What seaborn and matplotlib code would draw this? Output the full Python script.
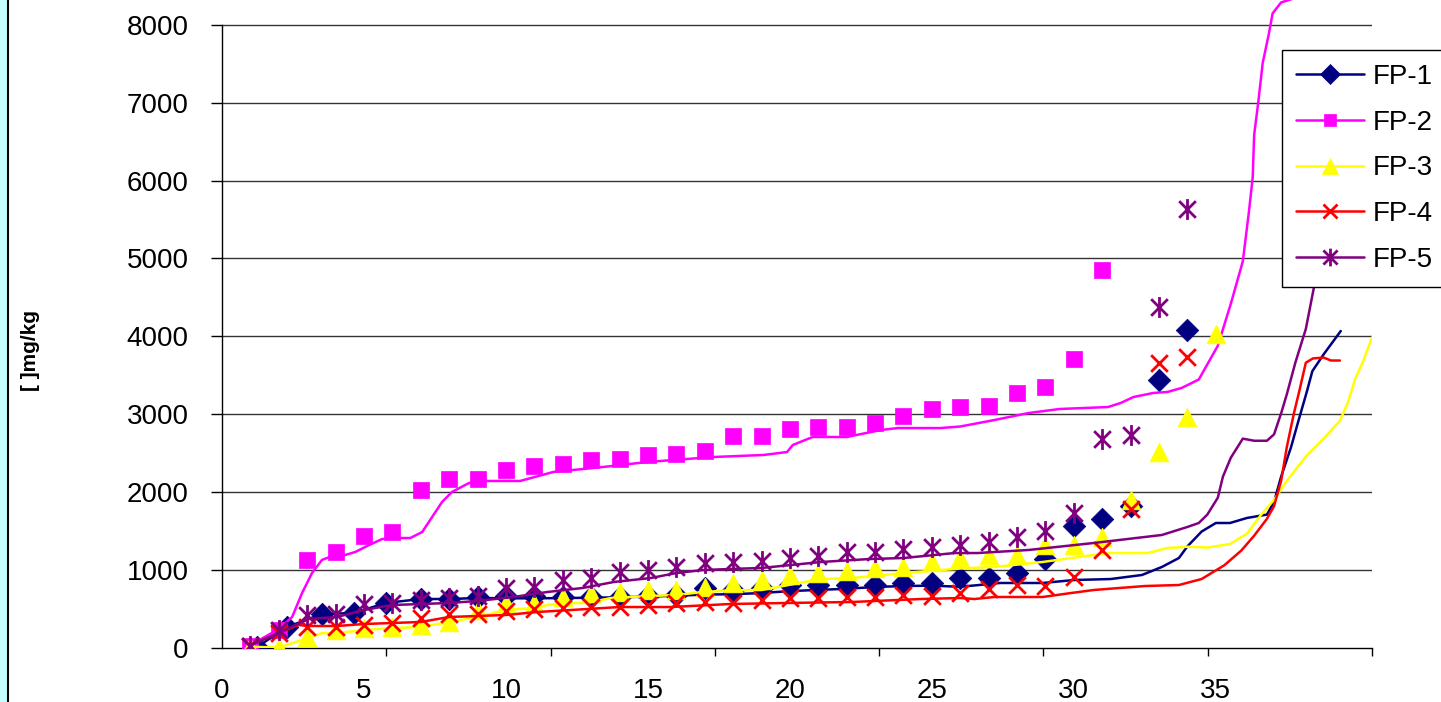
import numpy as np
import pandas as pd
import matplotlib
matplotlib.use("Agg")
import matplotlib.pyplot as plt
import seaborn as sns
from matplotlib.lines import Line2D
from matplotlib.path import Path
from matplotlib.patches import Rectangle

# ---- marker data ----
fp1_mx = [1.23, 2.29, 3.52, 4.65, 5.76, 7, 8, 9, 10, 11, 12, 13, 14, 15, 16, 17, 18, 19, 20,
          21, 22, 23, 24, 25, 26, 27, 28, 29, 30, 31, 32, 33, 34]
fp1_my = [5, 263, 430, 443, 572, 623, 623, 650, 660, 660, 650, 650, 645, 660, 680, 760, 739, 761,
          803, 803, 803, 803, 825, 833, 890, 893, 957, 1137, 1562, 1652, 1820, 3438, 4081]

fp2_mx = list(range(1, 32))
fp2_my = [20, 225, 1130, 1227, 1433, 1485, 2024, 2165, 2165, 2281, 2333, 2358, 2410, 2422, 2474,
          2487, 2525, 2718, 2718, 2808, 2834, 2834, 2885, 2975, 3065, 3090, 3104, 3271, 3348,
          3708, 4850]

fp3_mx = list(range(1, 36))
fp3_my = [10, 10, 135, 225, 250, 265, 290, 330, 482, 571, 571, 649, 700, 713, 739, 739, 778, 835,
          867, 932, 957, 983, 1022, 1035, 1099, 1155, 1189, 1189, 1317, 1317, 1420, 1896, 2513,
          2963, 4028]

fp4_mx = list(range(1, 35))
fp4_my = [20, 180, 263, 263, 290, 315, 379, 430, 430, 469, 495, 508, 520, 520, 546, 572, 585, 572,
          610, 636, 636, 649, 649, 675, 662, 705, 752, 803, 790, 906, 1253, 1780, 3656, 3733]

fp5_mx = list(range(1, 35))
fp5_my = [20, 225, 418, 430, 559, 572, 610, 636, 668, 759, 777, 866, 893, 970, 996, 1035, 1086,
          1105, 1112, 1150, 1176, 1227, 1227, 1266, 1292, 1317, 1356, 1420, 1497, 1728, 2680,
          2731, 4376, 5636]

# ---- line data ----
fp1_lx = [1.23, 2.29, 3.52, 4.65, 5.76, 7, 8, 9, 10, 11, 12, 13, 14, 15, 16, 17, 18, 19, 20, 21,
          22, 23, 24, 25, 26, 27.4, 28.9, 30, 31.3, 32.4, 33.1, 33.7, 34.0, 34.5, 35.0, 35.5,
          36.1, 36.8, 37.05, 37.3, 37.65, 37.9, 38.2, 38.4, 38.8, 39.4]
fp1_ly = [5, 263, 430, 443, 572, 623, 623, 636, 632, 632, 635, 640, 645, 655, 665, 680, 685, 700,
          725, 740, 755, 778, 790, 795, 780, 829, 829, 867, 880, 932, 1035, 1150, 1300, 1490,
          1600, 1600, 1665, 1708, 1871, 2196, 2576, 2901, 3281, 3552, 3769, 4067]

fp2_lx = [1.0, 2.0, 2.47, 2.82, 3.17, 3.52, 3.88, 4.34, 4.69, 5.18, 5.64, 6.1, 6.63, 7.05, 7.4,
          7.75, 8.1, 8.7, 9.1, 10.5, 11.67, 13.43, 14.98, 17.3, 19.07, 19.9, 20.1, 20.8, 22.0,
          23.2, 23.8, 25.3, 26.0, 27.2, 28.4, 29.5, 31.2, 31.65, 32.1, 32.8, 33.3, 33.8, 34.4,
          35.07, 35.53, 35.95, 36.17, 36.3, 36.35, 36.5, 36.65, 36.87, 37.0, 37.3, 37.65, 38.2]
fp2_ly = [30, 238, 392, 700, 957, 1125, 1176, 1189, 1227, 1317, 1394, 1407, 1407, 1484, 1677,
          1870, 1999, 2114, 2140, 2140, 2256, 2320, 2384, 2448, 2474, 2512, 2602, 2705, 2705,
          2795, 2820, 2820, 2840, 2923, 3013, 3065, 3090, 3142, 3219, 3271, 3284, 3336, 3444,
          3877, 4420, 4962, 5613, 6047, 6589, 7023, 7511, 7890, 8150, 8290, 8330, 8400]

fp3_lx = [1.0, 2.0, 3.03, 3.52, 4.05, 5.0, 6.0, 7.0, 8.0, 9.0, 10.0, 11.0, 11.45, 12.0, 12.85,
          13.7, 15.1, 16.0, 16.95, 17.9, 19.0, 19.95, 21.1, 22.2, 24.0, 26.0, 27.2, 28.9, 30.7,
          31.3, 32.6, 33.3, 34.0, 34.7, 35.5, 36.1, 36.6, 37.05, 37.5, 38.2, 38.8, 39.2, 39.35,
          39.65, 39.9, 40.2, 40.5]
fp3_ly = [10, 0, 122, 186, 186, 225, 250, 263, 328, 392, 482, 508, 546, 572, 572, 636, 662, 675,
          713, 735, 739, 803, 880, 893, 957, 1015, 1035, 1099, 1189, 1214, 1214, 1279, 1295,
          1285, 1329, 1464, 1708, 1898, 2142, 2467, 2684, 2847, 2901, 3145, 3444, 3688, 3986]

fp4_lx = [1.0, 2.0, 2.7, 3.0, 4.05, 5.0, 6.0, 7.0, 8.0, 9.0, 10.0, 11.1, 12.3, 14.0, 15.8, 17.9,
          19.9, 22.2, 24.6, 26.0, 26.5, 27.2, 28.9, 29.9, 30.7, 32.5, 33.7, 34.5, 35.3, 35.9,
          36.35, 36.8, 37.05, 37.3, 37.5, 37.75, 37.93, 38.17, 38.42, 38.8, 39.05, 39.37]
fp4_ly = [30, 186, 290, 276, 276, 302, 315, 328, 392, 405, 418, 456, 482, 520, 520, 559, 572,
          585, 623, 636, 623, 649, 649, 700, 739, 790, 803, 880, 1057, 1247, 1437, 1654, 1817,
          2142, 2576, 3010, 3281, 3660, 3715, 3726, 3688, 3688]

fp5_lx = [1.0, 2.0, 3.03, 4.05, 5.0, 6.0, 7.0, 8.0, 9.0, 10.26, 11.45, 12.7, 13.8, 15.1, 16.0,
          16.95, 17.9, 19.0, 21.1, 22.8, 24.0, 25.8, 26.6, 28.4, 30.7, 33.1, 34.0, 34.4, 34.7,
          35.07, 35.25, 35.53, 35.95, 36.35, 36.8, 37.05, 37.3, 37.5, 37.8, 38.17, 38.46, 38.7,
          39.0]
fp5_ly = [30, 186, 366, 392, 482, 546, 559, 572, 598, 649, 713, 765, 842, 893, 957, 996, 1009,
          1022, 1099, 1137, 1150, 1214, 1214, 1253, 1343, 1446, 1549, 1600, 1708, 1925, 2196,
          2440, 2684, 2657, 2657, 2739, 3010, 3254, 3660, 4094, 4637, 4962, 5400]

labels = ["FP-1", "FP-2", "FP-3", "FP-4", "FP-5"]
colors = ["#000080", "#ff00ff", "#ffff00", "#ff0000", "#800080"]
x_labels = [0, 5, 10, 15, 20, 25, 30, 35]
y_ticks = [0, 1000, 2000, 3000, 4000, 5000, 6000, 7000, 8000]

# asterisk-like marker (X plus a vertical bar)
star = Path([(-1, -1), (1, 1), (-1, 1), (1, -1), (0, -1.25), (0, 1.25)],
            [Path.MOVETO, Path.LINETO] * 3)

markers = ["D", "s", "^", "x", star]
msizes = [11.5, 11, 13.5, 12, 15]

lines = [(fp1_lx, fp1_ly), (fp2_lx, fp2_ly), (fp3_lx, fp3_ly), (fp4_lx, fp4_ly), (fp5_lx, fp5_ly)]
points = [(fp1_mx, fp1_my), (fp2_mx, fp2_my), (fp3_mx, fp3_my), (fp4_mx, fp4_my), (fp5_mx, fp5_my)]

sns.set_theme(style="white")
plt.rcParams["font.family"] = ["Liberation Sans", "DejaVu Sans"]
plt.rcParams["text.color"] = "black"
plt.rcParams["xtick.color"] = "black"
plt.rcParams["ytick.color"] = "black"
plt.rcParams["xtick.labelcolor"] = "black"
plt.rcParams["ytick.labelcolor"] = "black"

fig = plt.figure(figsize=(14.41, 7.02), dpi=100)
fig.patch.set_facecolor("white")
X0, X1 = 222 / 1441, 1372 / 1441
ax = fig.add_axes([X0, (702 - 647.5) / 702, X1 - X0, 647.5 / 702])
ax.set_facecolor("white")

for i in range(5):
    lx, ly = lines[i]
    df_l = pd.DataFrame({"x": lx, "y": ly})
    sns.lineplot(data=df_l, x="x", y="y", sort=False, estimator=None, color=colors[i],
                 linewidth=1.8, ax=ax, zorder=3 + i * 2)
    mx, my = points[i]
    df_m = pd.DataFrame({"x": mx, "y": my})
    filled = i < 3
    sns.scatterplot(data=df_m, x="x", y="y", marker=markers[i], s=msizes[i] ** 2,
                    color=colors[i], edgecolor=colors[i],
                    linewidth=0.5 if filled else 2.0, ax=ax, zorder=4 + i * 2)

ax.set_xlim(0, 40.5)
ax.set_ylim(0, 8321)
ax.set_xlabel("")
ax.set_ylabel("")

# grid
for v in y_ticks[1:]:
    ax.axhline(v, color="#333333", linewidth=1.0, zorder=1)

for side in ["top", "right"]:
    ax.spines[side].set_visible(False)
for side in ["left", "bottom"]:
    ax.spines[side].set_color("black")
    ax.spines[side].set_linewidth(1.0)
ax.spines["left"].set_bounds(0, 8000)

ax.set_yticks(y_ticks)
ax.set_yticklabels([str(v) for v in y_ticks])
ax.tick_params(axis="y", direction="out", length=8, width=1, color="black",
               labelsize=20, pad=16, left=True, labelcolor="black")

ax.set_xticks(x_labels)
ax.set_xticklabels([str(v) for v in x_labels])
ax.set_xticks(np.linspace(0, 40.5, 8), minor=True)
ax.tick_params(axis="x", which="major", length=0, labelsize=20, pad=22, labelcolor="black")
ax.tick_params(axis="x", which="minor", direction="out", length=6, width=1,
               color="black", bottom=True)

# legend (runs past the right edge like the cropped original)
handles = [Line2D([], [], color=colors[i], linewidth=1.8, marker=markers[i],
                  markersize=msizes[i] * 0.85, markerfacecolor=colors[i],
                  markeredgecolor=colors[i], markeredgewidth=0.5 if i < 3 else 2.0)
           for i in range(5)]
leg = fig.legend(handles, labels, loc="upper left", mode="expand",
                 bbox_to_anchor=(1282 / 1441, 1 - 50 / 702, 190 / 1441, 0),
                 bbox_transform=fig.transFigure,
                 frameon=True, fancybox=False, edgecolor="black", framealpha=1,
                 fontsize=20, handlelength=2.45, handletextpad=0.32, borderpad=0.5,
                 labelspacing=0.71, borderaxespad=0)
leg.get_frame().set_linewidth(1.0)
leg.set_zorder(20)

# y label
fig.text(30 / 1441, 1 - 350 / 702, "[ ]mg/kg", rotation=90, fontsize=15,
         fontweight="bold", ha="center", va="center")

# left cyan strip with dark border
fig.patches.append(Rectangle((0, 0), 7 / 1441, 1, transform=fig.transFigure,
                             facecolor="#c4ffff", edgecolor="none", zorder=0))
fig.lines.append(Line2D([7.5 / 1441, 7.5 / 1441], [0, 1], transform=fig.transFigure,
                        color="black", linewidth=1.5))

fig.savefig("out.png", dpi=100)
